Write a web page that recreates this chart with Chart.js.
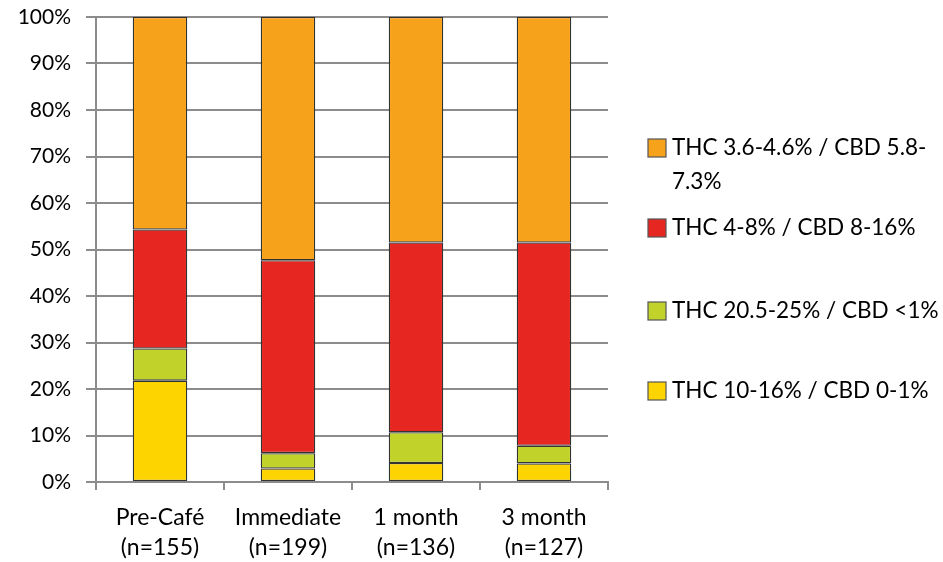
<!DOCTYPE html>
<html>
<head>
<meta charset="utf-8">
<script src="https://cdn.jsdelivr.net/npm/chart.js@4/dist/chart.umd.min.js"></script>
<style>
  html, body { margin: 0; padding: 0; background: #fff; }
  #wrap { position: relative; width: 943px; height: 562px; }
</style>
</head>
<body>
<div id="wrap"><canvas id="c" width="943" height="562"></canvas></div>
<script>
// Survey waves (x axis) and sample sizes
const categories = [["Pre-Café", "(n=155)"], ["Immediate", "(n=199)"], ["1 month", "(n=136)"], ["3 month", "(n=127)"]];

// Share of respondents (%) per product type, bottom segment first
const thc10to16 = [21.8, 2.9, 4.1, 4.0];
const thc20to25 = [6.9, 3.3, 6.6, 3.8];
const thc4to8 = [25.6, 41.5, 40.8, 43.7];
const thc36to46 = [45.7, 52.3, 48.5, 48.5];

const seriesLabels = [
  "THC 10-16% / CBD 0-1%",
  "THC 20.5-25% / CBD <1%",
  "THC 4-8% / CBD 8-16%",
  ["THC 3.6-4.6% / CBD 5.8-", "7.3%"]
];
const yTicks = [0, 10, 20, 30, 40, 50, 60, 70, 80, 90, 100];

const FONT = "Lato";
const GRID = "#8c8c8c";
const colors = ["#FDD300", "#C1D32B", "#E52621", "#F7A21B"];

// Legend drawn at the right, top entry = top segment
const sideLegend = {
  id: "sideLegend",
  afterDraw(chart) {
    const ctx = chart.ctx;
    const rows = [
      { ds: 3, y: 148 },
      { ds: 2, y: 228 },
      { ds: 1, y: 311 },
      { ds: 0, y: 391 }
    ];
    ctx.save();
    ctx.font = "22.5px " + FONT;
    ctx.textBaseline = "middle";
    rows.forEach(r => {
      const ds = chart.data.datasets[r.ds];
      ctx.fillStyle = ds.backgroundColor;
      ctx.fillRect(648, r.y - 9, 18, 18);
      ctx.strokeStyle = "#555";
      ctx.lineWidth = 1.2;
      ctx.strokeRect(648, r.y - 9, 18, 18);
      ctx.fillStyle = "#000";
      const lines = Array.isArray(ds.label) ? ds.label : [ds.label];
      lines.forEach((t, i) => ctx.fillText(t, 672, r.y + i * 34));
    });
    ctx.restore();
  }
};

const values = [thc10to16, thc20to25, thc4to8, thc36to46];

new Chart(document.getElementById("c"), {
  type: "bar",
  data: {
    labels: categories,
    datasets: values.map((v, i) => ({
      label: seriesLabels[i],
      data: v,
      backgroundColor: colors[i],
      borderColor: "#333",
      borderWidth: 1.3,
      borderSkipped: false,
      categoryPercentage: 1,
      barPercentage: 0.426
    }))
  },
  options: {
    responsive: false,
    animation: false,
    layout: { padding: { top: 17, right: 335, left: 0, bottom: 0 } },
    plugins: { legend: { display: false }, tooltip: { enabled: false } },
    scales: {
      x: {
        stacked: true,
        offset: true,
        grid: { display: true, drawOnChartArea: false, drawTicks: true, tickLength: 8, color: GRID, lineWidth: 2, offset: true },
        border: { color: GRID, width: 2 },
        ticks: { color: "#000", font: { family: FONT, size: 23, lineHeight: 1.3 }, padding: 13, maxRotation: 0 },
        afterFit(s) { s.height = 80; }
      },
      y: {
        stacked: true,
        min: 0,
        max: 100,
        afterBuildTicks(s) { s.ticks = yTicks.map(v => ({ value: v })); },
        grid: { color: GRID, lineWidth: 2, tickLength: 10, drawTicks: true },
        border: { color: GRID, width: 2 },
        // small lineHeight keeps the label's vertical padding from pushing the plot area down
        ticks: { color: "#000", font: { family: FONT, size: 21, lineHeight: 0.1 }, padding: 15, callback: v => v + "%" },
        afterFit(s) { s.width = 96; }
      }
    }
  },
  plugins: [sideLegend]
});
</script>
</body>
</html>
